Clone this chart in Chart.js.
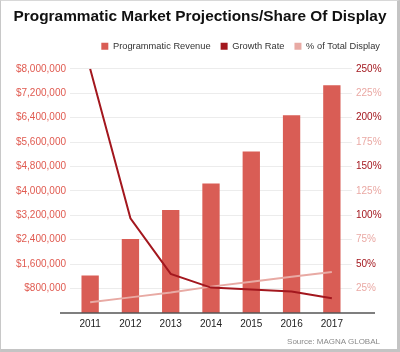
<!DOCTYPE html>
<html>
<head>
<meta charset="utf-8">
<script src="https://cdn.jsdelivr.net/npm/chart.js@4"></script>
<style>
  html, body { margin: 0; padding: 0; background: #fff; }
  #wrap { position: relative; width: 400px; height: 352px; }
  #frame {
    position: absolute; left: 0; top: 0; width: 396px; height: 348px;
    border-left: 1px solid #c8c8c8; border-top: 1px solid #d8d8d8;
    border-right: 3px solid #c4c4c4; border-bottom: 3px solid #c4c4c4;
    pointer-events: none;
  }
  #source {
    position: absolute; right: 20px; top: 337px;
    font: 8px "Liberation Sans", sans-serif; color: #8a8a8a;
  }
</style>
</head>
<body>
<div id="wrap">
  <canvas id="chart" width="400" height="352"></canvas>
  <div id="frame"></div>
  <div id="source">Source: MAGNA GLOBAL</div>
</div>
<script>
const years = ["2011", "2012", "2013", "2014", "2015", "2016", "2017"];
const revenue = [1230000, 2420000, 3370000, 4240000, 5290000, 6480000, 7460000];
const growthRate = [250, 97, 40, 26, 24, 22, 15];
const shareOfDisplay = [11, 16, 21, 27, 32, 37, 42];
const revenueTicks = [800000, 1600000, 2400000, 3200000, 4000000, 4800000, 5600000, 6400000, 7200000, 8000000];
const percentTicks = [25, 50, 75, 100, 125, 150, 175, 200, 225, 250];

// x axis line runs a bit wider than the plot, like the original
const axisLine = {
    id: "axisLine",
    afterDatasetsDraw(chart) {
        const { ctx, chartArea } = chart;
        ctx.save();
        ctx.strokeStyle = "#555";
        ctx.lineWidth = 1.5;
        ctx.beginPath();
        ctx.moveTo(chartArea.left - 10, chartArea.bottom);
        ctx.lineTo(chartArea.right + 23, chartArea.bottom);
        ctx.stroke();
        ctx.restore();
    }
};

// extra room under the legend
const legendGap = {
    id: "legendGap",
    beforeInit(chart) {
        const fit = chart.legend.fit;
        chart.legend.fit = function () {
            fit.bind(chart.legend)();
            this.height += 8;
        };
    }
};

const ctx = document.getElementById("chart").getContext("2d");

new Chart(ctx, {
    type: "bar",
    data: {
        labels: years,
        datasets: [{
            label: "Programmatic Revenue",
            data: revenue,
            backgroundColor: "#d95d55",
            yAxisID: "y",
            order: 3,
            categoryPercentage: 1,
            barPercentage: 0.43
        }, {
            type: "line",
            label: "Growth Rate",
            data: growthRate,
            borderColor: "#a3171e",
            backgroundColor: "#a3171e",
            borderWidth: 2,
            pointRadius: 0,
            tension: 0,
            yAxisID: "y1",
            order: 1
        }, {
            type: "line",
            label: "% of Total Display",
            data: shareOfDisplay,
            borderColor: "#e8aaa4",
            backgroundColor: "#e8aaa4",
            borderWidth: 2,
            pointRadius: 0,
            tension: 0,
            yAxisID: "y1",
            order: 2
        }]
    },
    options: {
        responsive: false,
        animation: false,
        layout: { padding: { left: 10, right: 10, bottom: 17 } },
        plugins: {
            title: {
                display: true,
                text: "Programmatic Market Projections/Share Of Display",
                color: "#111",
                font: { family: "Liberation Sans", size: 15.4, weight: "bold" },
                padding: { top: 8, bottom: 5 }
            },
            legend: {
                position: "top",
                align: "end",
                labels: {
                    boxWidth: 7,
                    boxHeight: 7,
                    padding: 10,
                    color: "#333",
                    font: { family: "Liberation Sans", size: 9.3 },
                    sort: (a, b) => a.datasetIndex - b.datasetIndex,
                    generateLabels(chart) {
                        return Chart.defaults.plugins.legend.labels.generateLabels(chart)
                            .map(item => Object.assign(item, { lineWidth: 0 }));
                    }
                }
            },
            tooltip: { enabled: false }
        },
        scales: {
            x: {
                grid: { display: false, drawTicks: false },
                border: { display: false },
                ticks: { color: "#222", font: { family: "Liberation Sans", size: 10 }, padding: 5 }
            },
            y: {
                position: "left",
                min: 0,
                max: 8000000,
                afterBuildTicks(scale) { scale.ticks = revenueTicks.map(v => ({ value: v })); },
                afterFit(scale) { scale.width = 60; },
                grid: { color: "#ececec", drawTicks: false },
                border: { display: false },
                ticks: {
                    color: "#e05a50",
                    padding: 4,
                    font: { family: "Liberation Sans", size: 10 },
                    callback: v => "$" + v.toLocaleString("en-US")
                }
            },
            y1: {
                position: "right",
                min: 0,
                max: 250,
                afterBuildTicks(scale) { scale.ticks = percentTicks.map(v => ({ value: v })); },
                afterFit(scale) { scale.width = 38; },
                grid: { drawOnChartArea: false, drawTicks: false },
                border: { display: false },
                ticks: {
                    padding: 4,
                    font: { family: "Liberation Sans", size: 10 },
                    color: c => (c.tick && c.tick.value % 50 === 0) ? "#a3171e" : "#eaa9a4",
                    callback: v => v + "%"
                }
            }
        }
    },
    plugins: [axisLine, legendGap]
});
</script>
</body>
</html>
